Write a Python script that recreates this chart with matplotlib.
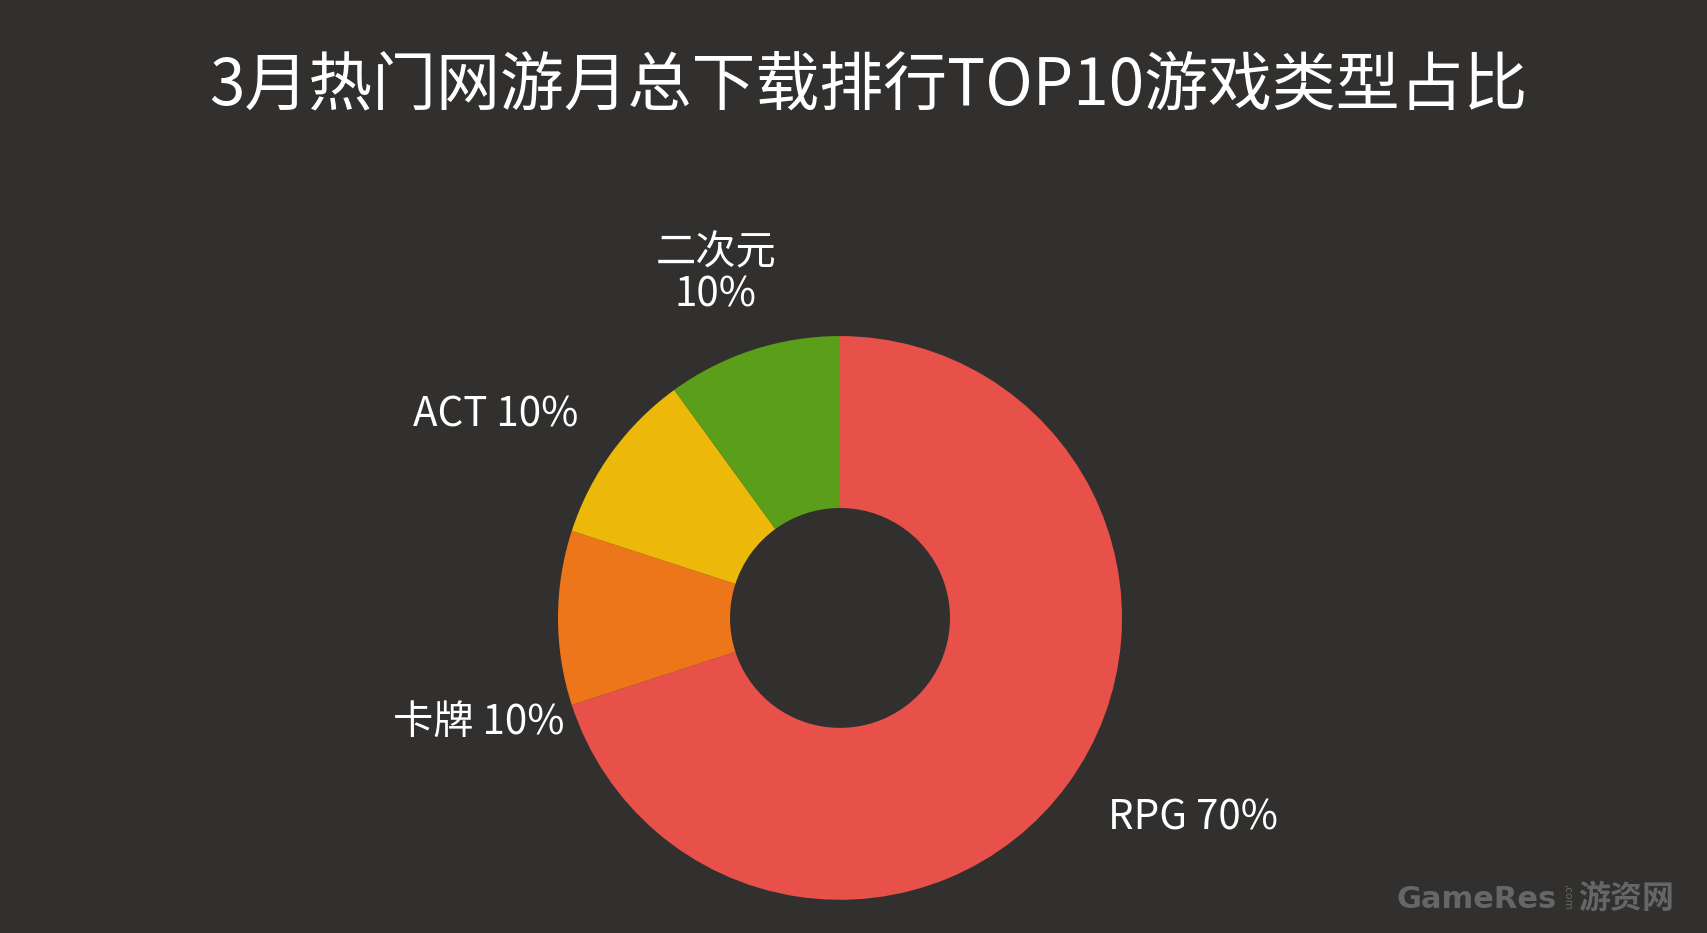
import matplotlib.pyplot as plt

plt.rcParams['font.family'] = ['Noto Sans CJK SC', 'DejaVu Sans']

# data
categories = ['RPG', '卡牌', 'ACT', '二次元']
shares = [70, 10, 10, 10]
colors = ['#E8504A', '#EE761A', '#ECB80A', '#5A9E1A']
label_texts = ['RPG 70%', '卡牌 10%', 'ACT 10%', '二次元\n10%']
# label anchor points, in units of the pie radius
label_pos = [(1.25, -0.71), (-1.28, -0.37), (-1.22, 0.72), (-0.44, 1.22)]

bg = '#31302E'
fig = plt.figure(figsize=(17.07, 9.33), dpi=100)
fig.patch.set_facecolor(bg)

# axes sized so that 1 data unit = 282 px, centre at (840, 618) px from top-left
ax = fig.add_axes([276 / 1707, 5 / 933, 1128 / 1707, 902 / 933])
ax.set_facecolor(bg)

ax.pie(shares, colors=colors, startangle=90, counterclock=False,
       radius=1.0, wedgeprops=dict(width=0.61, edgecolor='none'))
ax.set_aspect('auto')
ax.set_xlim(-2, 2)
ax.set_ylim(-1.1, 2.1)
ax.axis('off')

for txt, (lx, ly) in zip(label_texts, label_pos):
    ax.text(lx, ly, txt, ha='center', va='center', fontsize=29,
            color='white', linespacing=1.05)

fig.text(868 / 1707, 1 - 86 / 933, '3月热门网游月总下载排行TOP10游戏类型占比',
         ha='center', va='center', fontsize=46, color='white')

# watermark
fig.text(1557 / 1707, 1 - 899 / 933, 'GameRes', ha='right', va='center',
         fontsize=22, fontweight='bold', color='#666666', family=['DejaVu Sans'])
fig.text(1567 / 1707, 1 - 897 / 933, '.com', ha='center', va='center',
         fontsize=8, color='#666666', rotation=-90)
fig.text(1578 / 1707, 1 - 899 / 933, '游资网', ha='left', va='center',
         fontsize=23, fontweight='bold', color='#666666')

fig.savefig('out.png', dpi=100, facecolor=bg)
